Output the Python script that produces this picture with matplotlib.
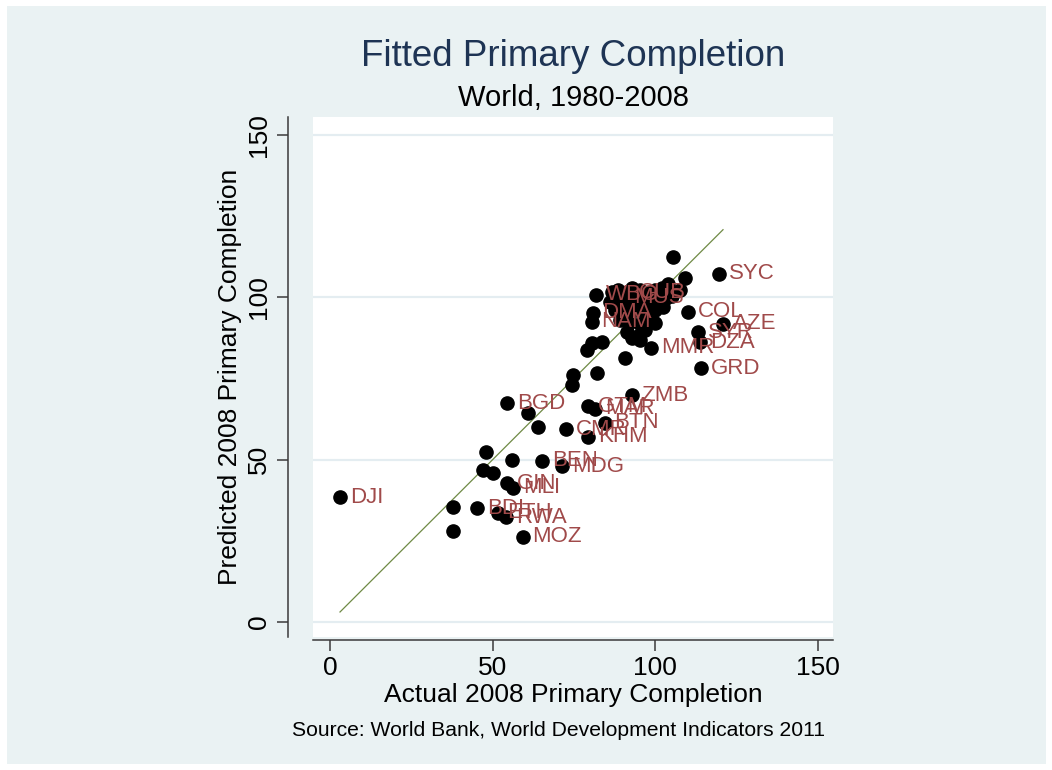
import matplotlib
matplotlib.use("Agg")
import matplotlib.pyplot as plt
from matplotlib.patches import Rectangle

plt.rcParams['font.family'] = ['Liberation Sans', 'DejaVu Sans']

# Labelled countries: actual vs predicted 2008 primary completion
lab_codes = ["DJI", "SYC", "COL", "AZE", "SYR", "DZA", "GRD", "MMR", "ZMB",
             "GTM", "MAR", "BTN", "KHM", "CMR", "BGD", "BEN", "MDG", "GIN",
             "MLI", "BDI", "ETH", "RWA", "MOZ", "WBG", "DMA", "NAM", "MUS", "CUB"]
lab_actual = [3.1, 119.6, 110.1, 120.8, 113.1, 113.7, 114.0, 98.7, 92.8,
              79.3, 81.5, 84.5, 79.3, 72.5, 54.4, 65.2, 71.3, 54.4,
              56.3, 45.2, 51.6, 54.1, 59.3, 81.8, 80.8, 80.5, 90.4, 92.0]
lab_pred = [38.5, 107.2, 95.5, 91.8, 89.3, 86.2, 78.2, 84.4, 69.9,
            66.5, 65.6, 61.3, 57.0, 59.4, 67.4, 49.6, 48.0, 42.8,
            41.3, 35.1, 33.6, 32.3, 26.2, 100.7, 95.2, 92.4, 99.8, 101.6]

# Remaining countries (unlabelled)
oth_actual = [105.4, 109.1, 107.6, 86.7, 88.5, 90.4, 92.8, 95.3, 97.8, 99.9,
              102.1, 103.9, 86.1, 88.5, 91.6, 94.7, 97.8, 100.8, 103.3, 105.1,
              87.6, 90.7, 93.8, 96.8, 99.9, 102.4, 89.1, 92.2, 95.3, 98.4,
              91.3, 94.7, 96.8, 99.9, 79.0, 80.5, 83.6, 90.7, 92.8, 95.3,
              74.7, 74.4, 82.1, 60.9, 63.9, 48.0, 55.9, 47.0, 50.1, 37.8, 37.8]
oth_pred = [112.4, 105.9, 102.2, 101.6, 102.2, 101.3, 102.9, 102.2, 101.3, 102.2,
            102.9, 104.1, 98.6, 99.2, 98.6, 99.2, 98.2, 99.2, 99.8, 100.4,
            96.1, 95.5, 96.1, 95.2, 96.1, 97.0, 93.0, 92.4, 91.8, 93.0,
            89.3, 88.1, 89.9, 92.1, 83.8, 85.9, 86.2, 81.3, 87.5, 86.8,
            76.1, 73.0, 76.7, 64.4, 60.1, 52.4, 49.9, 46.8, 45.9, 35.4, 28.0]

ticks = [0, 50, 100, 150]

W, H = 1052, 770
fig = plt.figure(figsize=(W / 100, H / 100), dpi=100)
fig.patch.set_facecolor("white")
fig.patches.append(Rectangle((7 / W, 6 / H), (1046 - 7) / W, (764 - 6) / H,
                             transform=fig.transFigure, facecolor="#eaf2f3",
                             edgecolor="none", zorder=-10))

ax = fig.add_axes([313 / W, 1 - 637 / H, (833 - 313) / W, (637 - 117) / H])
ax.set_facecolor("white")
ax.set_xlim(-5.2, 154.6)
ax.set_ylim(-4.6, 155.5)

for t in ticks:
    ax.axhline(t, color="#e4edf1", lw=1.6, zorder=1)

# 45-degree reference line over the observed range
all_actual = lab_actual + oth_actual
lo, hi = min(all_actual), max(all_actual)
ax.plot([lo, hi], [lo, hi], color="#6f8a45", lw=0.9, zorder=2)

ax.plot(oth_actual, oth_pred, "o", color="black", ms=9.5, zorder=3)
ax.plot(lab_actual, lab_pred, "o", color="black", ms=9.5, zorder=3)
for code, xa, yp in zip(lab_codes, lab_actual, lab_pred):
    ax.annotate(code, (xa, yp), xytext=(7, 0), textcoords="offset points",
                ha="left", va="center", fontsize=16, color="#a04a4a", zorder=4)

for side in ("top", "right"):
    ax.spines[side].set_visible(False)
ax.spines["left"].set_position(("outward", 18))
ax.spines["bottom"].set_position(("outward", 2))
for side in ("left", "bottom"):
    ax.spines[side].set_color("#3a3a3a")
    ax.spines[side].set_linewidth(1.1)

ax.set_xticks(ticks)
ax.set_yticks(ticks)
ax.set_xticklabels([str(t) for t in ticks])
ax.set_yticklabels([str(t) for t in ticks], rotation=90, va="center")
ax.tick_params(axis="both", direction="out", length=8, width=1.1,
               color="#3a3a3a", labelsize=19, pad=4)

ax.set_xlabel("Actual 2008 Primary Completion", fontsize=19, labelpad=2)
ax.set_ylabel("Predicted 2008 Primary Completion", fontsize=19, labelpad=4)

fig.text(573 / W, 1 - 57 / H, "Fitted Primary Completion", ha="center",
         va="center", fontsize=26.5, color="#1e3454")
fig.text(573 / W, 1 - 98 / H, "World, 1980-2008", ha="center", va="center",
         fontsize=21, color="black")
fig.text(559 / W, 1 - 731 / H,
         "Source: World Bank, World Development Indicators 2011",
         ha="center", va="center", fontsize=15.2, color="black")

fig.savefig("out.png", dpi=100, facecolor=fig.get_facecolor())
